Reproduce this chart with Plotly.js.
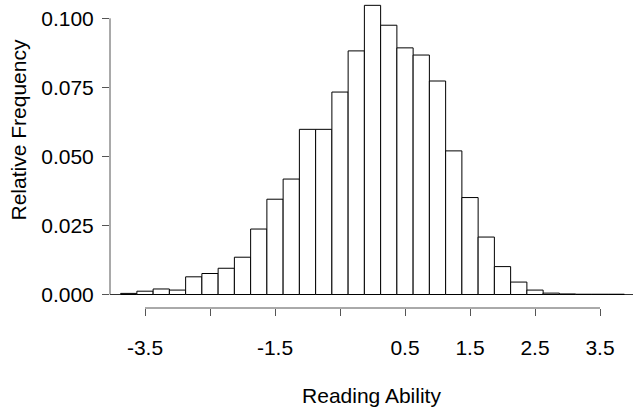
<!DOCTYPE html>
<html>
<head>
<meta charset="utf-8">
<script src="https://cdn.plot.ly/plotly-3.0.1.min.js"></script>
<style>html,body{margin:0;padding:0;background:#fff;}#chart{width:634px;height:413px;}</style>
</head>
<body>
<div id="chart"></div>
<script>
// Bin centres (bin width 0.25) of the reading-ability histogram
const binCenters = [-3.75,-3.5,-3.25,-3.0,-2.75,-2.5,-2.25,-2.0,-1.75,-1.5,-1.25,-1.0,-0.75,-0.5,-0.25,
                    0.0,0.25,0.5,0.75,1.0,1.25,1.5,1.75,2.0,2.25,2.5,2.75,3.0,3.25,3.5,3.75];
const relFreq = [0.0004,0.0012,0.0020,0.0016,0.0064,0.0076,0.0095,0.0135,0.0237,0.0345,0.0418,0.0598,0.0598,0.0733,0.0882,
                 0.1047,0.0975,0.0893,0.0867,0.0773,0.0520,0.0351,0.0208,0.0101,0.0045,0.0016,0.0005,0.0002,0.0001,0.0001,0.0001];
const binWidth = 0.25;
const xTickVals = [-3.5,-2.5,-1.5,-0.5,0.5,1.5,2.5,3.5];
const xTickText = ['-3.5','','-1.5','','0.5','1.5','2.5','3.5'];
const yTickVals = [0,0.025,0.05,0.075,0.1];
const yTickText = ['0.000','0.025','0.050','0.075','0.100'];

const FONT = 'Liberation Sans, Arial, sans-serif';
const AX = '#555';
const PL = 110, PW = 523, PH = 308;
const px = x => (x - PL) / PW;
const py = y => 1 - y / PH;

const trace = {
  type: 'bar', x: binCenters, y: relFreq, width: binWidth,
  marker: {color: '#ffffff', line: {color: '#000000', width: 1}},
  hoverinfo: 'x+y'
};

const layout = {
  width: 634, height: 413,
  margin: {l: PL, r: 1, t: 0, b: 105, pad: 0},
  paper_bgcolor: '#ffffff', plot_bgcolor: '#ffffff',
  font: {family: FONT, size: 21, color: '#000'},
  showlegend: false, bargap: 0,
  xaxis: {
    range: [-4.0385, 4.0077], showgrid: false, zeroline: false, showline: false,
    ticks: 'outside', ticklen: 7, tickwidth: 1, tickcolor: AX,
    tickvals: xTickVals, ticktext: xTickText,
    tickfont: {family: FONT, size: 21, color: '#000'}, ticklabelstandoff: 14,
    title: {text: 'Reading Ability', font: {family: FONT, size: 21, color: '#000'}, standoff: 30}
  },
  yaxis: {
    range: [-0.004888, 0.10663], showgrid: false, zeroline: false, showline: false,
    ticks: 'outside', ticklen: 7, tickwidth: 1, tickcolor: AX,
    tickvals: yTickVals, ticktext: yTickText,
    tickfont: {family: FONT, size: 21, color: '#000'}, ticklabelstandoff: 4
  },
  shapes: [
    // x axis line from first to last tick
    {type: 'line', xref: 'x', yref: 'paper', x0: -3.5, x1: 3.5, y0: 0, y1: 0, line: {color: AX, width: 1}},
    // y axis line from 0 to 0.1
    {type: 'line', xref: 'paper', yref: 'y', x0: 0, x1: 0, y0: 0, y1: 0.1, line: {color: AX, width: 1}},
    // baseline at zero
    {type: 'line', xref: 'paper', yref: 'y', x0: 0, x1: 1, y0: 0, y1: 0, line: {color: '#333', width: 1}, layer: 'below'}
  ],
  annotations: [
    {text: 'Relative Frequency', xref: 'paper', yref: 'paper', x: px(17.5), y: py(130), showarrow: false,
     textangle: -90, font: {family: FONT, size: 21, color: '#000'}, xanchor: 'center', yanchor: 'middle'}
  ]
};

Plotly.newPlot('chart', [trace], layout, {displayModeBar: false, staticPlot: true});
</script>
</body>
</html>
